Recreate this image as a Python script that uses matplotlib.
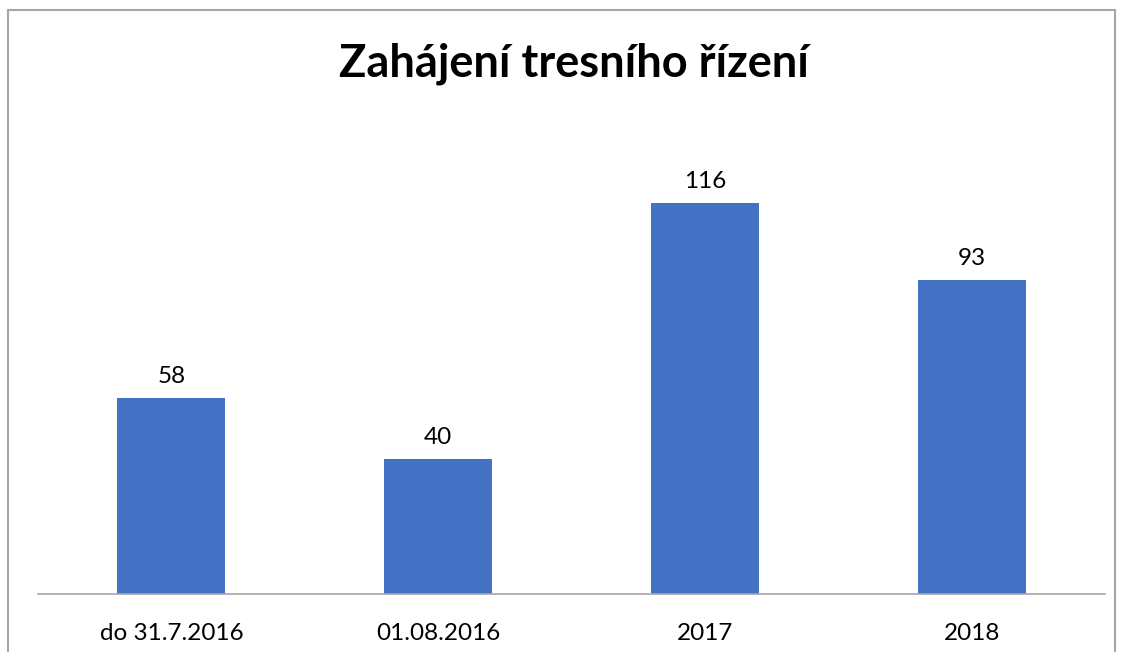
import matplotlib.pyplot as plt
from matplotlib.patches import Rectangle

# data
categories = ['do 31.7.2016', '01.08.2016', '2017', '2018']
values = [58, 40, 116, 93]

plt.rcParams['font.family'] = ['Lato', 'DejaVu Sans']

W, H = 1124, 652
fig = plt.figure(figsize=(W / 100, H / 100), dpi=100)

# border of the chart area
fig.patches.append(Rectangle((8 / W, -0.05), (1115 - 8) / W, 1.05 - 10 / H,
                             transform=fig.transFigure, fill=False,
                             edgecolor='#a6a6a6', linewidth=1.5))

ax_bottom = (H - 594) / H
ax_top = (H - 122) / H
ax = fig.add_axes([38 / W, ax_bottom, (1105 - 38) / W, ax_top - ax_bottom])

x = list(range(len(categories)))
bars = ax.bar(x, values, width=0.404, color='#4472c4')
for rect, v in zip(bars, values):
    ax.annotate(str(v), (rect.get_x() + rect.get_width() / 2, rect.get_height()),
                xytext=(0, 8), textcoords='offset points', ha='center', va='bottom',
                fontsize=17.5, color='#000000')

ax.set_xlim(-0.5, 3.5)
ax.set_ylim(0, 140)
ax.set_xticks(x)
ax.set_xticklabels(categories, fontsize=17.5)
ax.tick_params(axis='x', length=0, pad=21)
ax.set_yticks([])
for s in ['top', 'right', 'left']:
    ax.spines[s].set_visible(False)
ax.spines['bottom'].set_color('#a6a6a6')
ax.spines['bottom'].set_linewidth(1.2)

fig.text(574 / W, (H - 64) / H, 'Zahájení tresního řízení', ha='center', va='center',
         fontsize=32.5, fontweight='bold')

fig.savefig('out.png', dpi=100)
